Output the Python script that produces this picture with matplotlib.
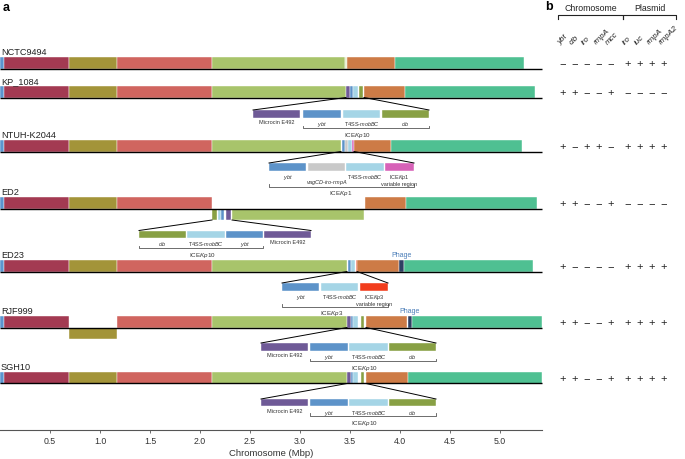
import matplotlib.pyplot as plt
from matplotlib.patches import Rectangle

plt.rcParams['font.family'] = ['Liberation Sans', 'DejaVu Sans']
plt.rcParams['mathtext.fontset'] = 'custom'
plt.rcParams['mathtext.rm'] = 'Liberation Sans'
plt.rcParams['mathtext.it'] = 'Liberation Sans:italic'

# ---------------------------------------------------------------- data
colors = {
    'edge': '#5b95cf', 'crimson': '#a33a52', 'olive': '#a39439',
    'salmon': '#d0655f', 'lgreen': '#a8c46b', 'orange': '#cd7b46',
    'teal': '#4fc092', 'pale': '#e6edc9', 'purple': '#6f5a97',
    'ybt': '#5d93c9', 't4ss': '#a5d5e6', 'clb': '#88a044',
    'grey': '#c9c9c9', 'pink': '#d762b8', 'red': '#f23d1d',
    'phage': '#2e3f62',
}

strains = ['NCTC9494', 'KP_1084', 'NTUH-K2044', 'ED2', 'ED23', 'RJF999', 'SGH10']

# chromosome blocks: (start Mbp, end Mbp, block)
backbone = [(0.00, 0.04, 'edge'), (0.04, 0.69, 'crimson'),
            (0.69, 1.17, 'olive'), (1.17, 2.12, 'salmon')]
nctc9494 = backbone + [(2.12, 3.45, 'lgreen'), (3.45, 3.47, 'pale'),
                       (3.47, 3.95, 'orange'), (3.95, 5.24, 'teal')]
kp1084 = backbone + [(2.12, 3.46, 'lgreen'), (3.46, 3.50, 'purple'),
                     (3.50, 3.53, 'ybt'), (3.53, 3.58, 't4ss'),
                     (3.59, 3.63, 'clb'), (3.64, 4.05, 'orange'),
                     (4.05, 5.35, 'teal')]
ntuh = backbone + [(2.12, 3.41, 'lgreen'), (3.42, 3.45, 'ybt'),
                   (3.45, 3.48, 'grey'), (3.48, 3.52, 't4ss'),
                   (3.52, 3.54, 'pink'), (3.54, 3.91, 'orange'),
                   (3.91, 5.22, 'teal')]
ed2 = backbone + [(3.65, 4.06, 'orange'), (4.06, 5.37, 'teal')]
ed23 = backbone + [(2.12, 3.47, 'lgreen'), (3.48, 3.51, 'ybt'),
                   (3.51, 3.55, 't4ss'), (3.56, 3.57, 'red'),
                   (3.57, 3.99, 'orange'), (3.99, 4.04, 'phage'),
                   (4.04, 5.33, 'teal')]
rjf999 = backbone[:2] + [(1.17, 2.12, 'salmon'), (2.12, 3.47, 'lgreen'),
                         (3.47, 3.51, 'purple'), (3.51, 3.53, 'ybt'),
                         (3.53, 3.58, 't4ss'), (3.61, 3.64, 'clb'),
                         (3.66, 4.07, 'orange'), (4.08, 4.12, 'phage'),
                         (4.12, 5.42, 'teal')]
sgh10 = backbone + [(2.12, 3.47, 'lgreen'), (3.47, 3.51, 'purple'),
                    (3.51, 3.53, 'ybt'), (3.53, 3.58, 't4ss'),
                    (3.61, 3.64, 'clb'), (3.66, 4.08, 'orange'),
                    (4.08, 5.42, 'teal')]
chromosomes = [nctc9494, kp1084, ntuh, ed2, ed23, rjf999, sgh10]

# blocks drawn below the line (inverted / shifted)
ed2_shifted = [(2.12, 2.17, 'clb'), (2.18, 2.21, 't4ss'), (2.21, 2.24, 'ybt'),
               (2.26, 2.31, 'purple'), (2.32, 3.64, 'lgreen')]
rjf999_shifted = [(0.69, 1.17, 'olive')]
shifted = {3: ed2_shifted, 5: rjf999_shifted}

phage_rows = [4, 5]
phage_x = [4.02, 4.10]

# zoomed insertions
ice10 = ['purple', 'ybt', 't4ss', 'clb']
ice10_labels = ['Microcin E492', r'$\mathit{ybt}$', r'T4SS-$\mathit{mobBC}$',
                r'$\mathit{clb}$']
ice1 = ['ybt', 'grey', 't4ss', 'pink']
ice1_labels = [r'$\mathit{ybt}$', '\n' + r'$\mathit{vagCD}$-$\mathit{iro}$-$\mathit{rmpA}$',
               r'T4SS-$\mathit{mobBC}$', r'ICE$\mathit{Kp}$1' + '\nvariable region']
ice3 = ['ybt', 't4ss', 'red']
ice3_labels = [r'$\mathit{ybt}$', r'T4SS-$\mathit{mobBC}$',
               r'ICE$\mathit{Kp}$3' + '\nvariable region']

insets = [
    # row, box starts, box ends, kinds, labels, bracket, name, name x, source
    (1, [2.53, 3.03, 3.43, 3.82], [3.00, 3.41, 3.80, 4.29], ice10, ice10_labels,
     (3.03, 4.29), r'ICE$\mathit{Kp}$10', 3.57, (3.46, 3.64)),
    (2, [2.69, 3.08, 3.46, 3.85], [3.06, 3.45, 3.84, 4.14], ice1, ice1_labels,
     (2.69, 4.14), r'ICE$\mathit{Kp}$1', 3.41, (3.41, 3.54)),
    (3, [1.39, 1.87, 2.26, 2.64], [1.86, 2.25, 2.63, 3.11], ice10[::-1],
     ice10_labels[::-1], (1.39, 2.63), r'ICE$\mathit{Kp}$10', 2.02, (2.12, 2.32)),
    (4, [2.82, 3.21, 3.60], [3.19, 3.58, 3.88], ice3, ice3_labels,
     (2.82, 3.88), r'ICE$\mathit{Kp}$3', 3.32, (3.47, 3.57)),
    (5, [2.61, 3.10, 3.49, 3.89], [3.08, 3.48, 3.88, 4.36], ice10, ice10_labels,
     (3.10, 4.36), r'ICE$\mathit{Kp}$10', 3.64, (3.47, 3.66)),
    (6, [2.61, 3.10, 3.49, 3.89], [3.08, 3.48, 3.88, 4.36], ice10, ice10_labels,
     (3.10, 4.36), r'ICE$\mathit{Kp}$10', 3.64, (3.47, 3.66)),
]

# panel b
chrom_genes = ['ybt', 'clb', 'iro', 'rmpA', 'mcc']
plasmid_genes = ['iro', 'iuc', 'rmpA', 'rmpA2']
chrom_calls = ['-----', '++--+', '+-++-', '++--+', '+----', '++--+', '++--+']
plasmid_calls = ['++++', '----', '++++', '----', '++++', '++++', '++++']

# ---------------------------------------------------------------- layout
row_top = [58, 87, 141, 198, 261, 317, 373]   # pixel rows
bar_h = 11.5
box_h = 7.5
inset_top = [111, 164, 231.5, 284, 344, 400]
bracket_gap = [10.5, 16, 10, 16, 10.5, 9.5]
chrom_cols = [563, 575, 587, 599, 611]
plasmid_cols = [628, 640, 652, 664]

fig = plt.figure(figsize=(6.85, 4.6), dpi=100)
ax = fig.add_axes([0, 29 / 460, 542 / 685, 431 / 460])
ax.set_xlim(0, 5.42)
ax.set_ylim(431, 0)
for s in ['left', 'right', 'top']:
    ax.spines[s].set_visible(False)
ax.spines['bottom'].set_color('#555555')
ax.spines['bottom'].set_linewidth(0.8)
ax.set_yticks([])
ax.set_xticks([0.5, 1.0, 1.5, 2.0, 2.5, 3.0, 3.5, 4.0, 4.5, 5.0])
ax.tick_params(axis='x', labelsize=6.3, length=2.5, width=0.6,
               color='#555555', labelcolor='#333333', pad=2)
ax.set_xlabel('Chromosome (Mbp)', fontsize=6.8, color='#333333', labelpad=2)


def block(x0, x1, y, h, kind):
    ax.add_patch(Rectangle((x0, y), x1 - x0, h, facecolor=colors[kind],
                           edgecolor='white', linewidth=0.3, clip_on=False))


for i, name in enumerate(strains):
    top = row_top[i]
    ax.text(0.01, top - 1, name, fontsize=6.6, ha='left', va='bottom',
            color='#222222')
    for x0, x1, kind in chromosomes[i]:
        block(x0, x1, top, bar_h, kind)
    for x0, x1, kind in shifted.get(i, []):
        block(x0, x1, top + bar_h, bar_h, kind)
    ax.plot([0, 5.42], [top + bar_h, top + bar_h], color='black', lw=1.0,
            clip_on=False, solid_capstyle='butt')

for r, x in zip(phage_rows, phage_x):
    ax.text(x, row_top[r] - 1.5, 'Phage', fontsize=5, color='#4a7db8',
            ha='center', va='bottom')

for k, (r, starts, ends, kinds, labels, brk, ice, ice_x, src) in enumerate(insets):
    y0 = inset_top[k]
    src_y = row_top[r] + bar_h + (bar_h if r == 3 else 0)
    ax.plot([src[0], starts[0]], [src_y, y0], color='black', lw=0.7, clip_on=False)
    ax.plot([src[1], ends[-1]], [src_y, y0], color='black', lw=0.7, clip_on=False)
    for x0, x1, kind, lab in zip(starts, ends, kinds, labels):
        block(x0, x1, y0, box_h, kind)
        ax.text((x0 + x1) / 2, y0 + box_h + 1.5, lab, fontsize=4.0,
                ha='center', va='top', color='#333333', linespacing=1.05)
    yb = y0 + box_h + bracket_gap[k]
    ax.plot([brk[0], brk[0], brk[1], brk[1]], [yb - 2.5, yb, yb, yb - 2.5],
            color='#555555', lw=0.6, clip_on=False)
    ax.text(ice_x, yb + 2, ice, fontsize=4.5, ha='center', va='top',
            color='#333333')

# panel b drawn in pixel space
axb = fig.add_axes([0, 0, 1, 1])
axb.set_xlim(0, 685)
axb.set_ylim(460, 0)
axb.axis('off')

fig.text(3 / 685, 1 - 2 / 460, 'a', fontsize=9, fontweight='bold',
         ha='left', va='top')
fig.text(545 / 685, 1 - 1 / 460, 'b', fontsize=9, fontweight='bold',
         ha='left', va='top')

for cols, title in [(chrom_cols, 'Chromosome'), (plasmid_cols, 'Plasmid')]:
    x0, x1 = cols[0] - 5, cols[-1] + 12
    axb.plot([x0, x0, x1, x1], [19.5, 16, 16, 19.5], color='#222222', lw=0.8)
    axb.text((x0 + x1) / 2, 13, title, fontsize=6.3, ha='center',
             va='bottom', color='#222222')

for cols, genes in [(chrom_cols, chrom_genes), (plasmid_cols, plasmid_genes)]:
    for x, g in zip(cols, genes):
        axb.text(x - 3, 45, g, fontsize=5.8, fontstyle='italic', rotation=45,
                 rotation_mode='anchor', ha='left', va='baseline',
                 color='#222222')

sign = {'+': '+', '-': '\u2212'}
for i in range(len(strains)):
    y = row_top[i] + 6
    for x, c in zip(chrom_cols, chrom_calls[i]):
        axb.text(x, y, sign[c], fontsize=8, ha='center', va='center',
                 color='#222222')
    for x, c in zip(plasmid_cols, plasmid_calls[i]):
        axb.text(x, y, sign[c], fontsize=8, ha='center', va='center',
                 color='#222222')

fig.savefig('out.png', dpi=100)
